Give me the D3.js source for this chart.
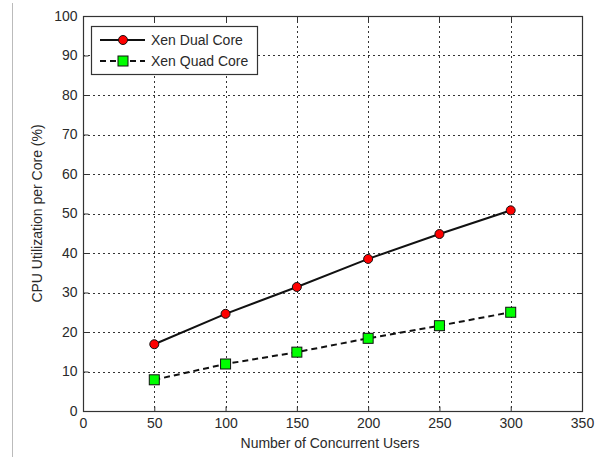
<!DOCTYPE html>
<html>
<head>
<meta charset="utf-8">
<script src="https://cdn.jsdelivr.net/npm/d3@7"></script>
<style>
  body { margin: 0; background: #fff; }
  svg { display: block; font-family: "Liberation Sans", Arial, sans-serif; }
</style>
</head>
<body>
<svg id="chart" width="601" height="457"></svg>
<script>
// Concurrent user counts on the x axis
const users = [50, 100, 150, 200, 250, 300];
// CPU utilization per core (%)
const dualCore = [16.9, 24.6, 31.4, 38.5, 44.8, 50.8];
const quadCore = [7.9, 11.9, 14.9, 18.4, 21.6, 25.0];
const xTicks = [0, 50, 100, 150, 200, 250, 300, 350];
const yTicks = [0, 10, 20, 30, 40, 50, 60, 70, 80, 90, 100];
const seriesNames = ["Xen Dual Core", "Xen Quad Core"];

const svg = d3.select("#chart");
const plotLeft = 83, plotRight = 582, plotTop = 16, plotBottom = 411;
const fontSize = 14;
const textColor = "#2a2a2a";

const x = d3.scaleLinear().domain([0, 350]).range([plotLeft, plotRight]);
const y = d3.scaleLinear().domain([0, 100]).range([plotBottom, plotTop]);

// thin grey frame line at the left edge
svg.append("line").attr("x1", 12.5).attr("x2", 12.5).attr("y1", 3).attr("y2", 457)
  .attr("stroke", "#bbb").attr("stroke-width", 1);

// dotted grid
const grid = svg.append("g").attr("stroke", "#333").attr("stroke-width", 1)
  .attr("stroke-dasharray", "2,3");
grid.selectAll("line.v").data(xTicks.slice(1, -1)).join("line")
  .attr("class", "v")
  .attr("x1", d => Math.round(x(d)) + 0.5).attr("x2", d => Math.round(x(d)) + 0.5)
  .attr("y1", plotTop).attr("y2", plotBottom);
grid.selectAll("line.h").data(yTicks.slice(1, -1)).join("line")
  .attr("class", "h")
  .attr("y1", d => Math.round(y(d)) + 0.5).attr("y2", d => Math.round(y(d)) + 0.5)
  .attr("x1", plotLeft).attr("x2", plotRight);

// axes with inward ticks
const xAxis = d3.axisBottom(x).tickValues(xTicks).tickSize(-5).tickPadding(7).tickFormat(d3.format("d"));
const yAxis = d3.axisLeft(y).tickValues(yTicks).tickSize(-5).tickPadding(6).tickFormat(d3.format("d"));
const gx = svg.append("g").attr("transform", `translate(0,${plotBottom + 0.5})`).call(xAxis);
const gy = svg.append("g").attr("transform", `translate(${plotLeft + 0.5},0)`).call(yAxis);
[gx, gy].forEach(g => {
  g.select(".domain").remove();
  g.selectAll(".tick line").attr("stroke", "#333");
  g.selectAll(".tick text").attr("fill", textColor).attr("font-size", fontSize)
    .attr("font-family", "Liberation Sans, Arial, sans-serif");
});
// top and right ticks
svg.append("g").selectAll("line").data(xTicks).join("line")
  .attr("x1", d => Math.round(x(d)) + 0.5).attr("x2", d => Math.round(x(d)) + 0.5)
  .attr("y1", plotTop).attr("y2", plotTop + 5).attr("stroke", "#333");
svg.append("g").selectAll("line").data(yTicks).join("line")
  .attr("y1", d => Math.round(y(d)) + 0.5).attr("y2", d => Math.round(y(d)) + 0.5)
  .attr("x1", plotRight - 5).attr("x2", plotRight).attr("stroke", "#333");

// axes box
svg.append("rect").attr("x", plotLeft + 0.5).attr("y", plotTop + 0.5)
  .attr("width", plotRight - plotLeft).attr("height", plotBottom - plotTop)
  .attr("fill", "none").attr("stroke", "#333").attr("stroke-width", 1.2);

// axis titles
svg.append("text").attr("x", 330).attr("y", 448)
  .attr("text-anchor", "middle").attr("font-size", fontSize).attr("fill", textColor)
  .text("Number of Concurrent Users");
svg.append("text").attr("transform", `translate(42,${(plotTop + plotBottom) / 2}) rotate(-90)`)
  .attr("text-anchor", "middle").attr("font-size", fontSize).attr("fill", textColor)
  .text("CPU Utilization per Core (%)");

// series
const line = d3.line().x((d, i) => x(users[i])).y(d => y(d));
svg.append("path").datum(dualCore).attr("d", line)
  .attr("fill", "none").attr("stroke", "#111").attr("stroke-width", 2);
svg.append("path").datum(quadCore).attr("d", line)
  .attr("fill", "none").attr("stroke", "#111").attr("stroke-width", 2)
  .attr("stroke-dasharray", "6,4");

svg.append("g").selectAll("circle").data(dualCore).join("circle")
  .attr("cx", (d, i) => x(users[i])).attr("cy", d => y(d)).attr("r", 4.5)
  .attr("fill", "#f00").attr("stroke", "#111").attr("stroke-width", 1);
svg.append("g").selectAll("rect").data(quadCore).join("rect")
  .attr("x", (d, i) => x(users[i]) - 5).attr("y", d => y(d) - 5)
  .attr("width", 10).attr("height", 10)
  .attr("fill", "#0f0").attr("stroke", "#111").attr("stroke-width", 1);

// legend
const lg = svg.append("g");
lg.append("rect").attr("x", 91.5).attr("y", 26.5).attr("width", 166).attr("height", 48)
  .attr("fill", "#fff").attr("stroke", "#333").attr("stroke-width", 1.2);
const rows = [40, 61];
lg.append("line").attr("x1", 100).attr("x2", 145).attr("y1", rows[0]).attr("y2", rows[0])
  .attr("stroke", "#111").attr("stroke-width", 2);
lg.append("circle").attr("cx", 123).attr("cy", rows[0]).attr("r", 4.5)
  .attr("fill", "#f00").attr("stroke", "#111");
lg.append("line").attr("x1", 100).attr("x2", 145).attr("y1", rows[1]).attr("y2", rows[1])
  .attr("stroke", "#111").attr("stroke-width", 2).attr("stroke-dasharray", "6,4");
lg.append("rect").attr("x", 118).attr("y", rows[1] - 5).attr("width", 10).attr("height", 10)
  .attr("fill", "#0f0").attr("stroke", "#111");
lg.selectAll("text").data(seriesNames).join("text")
  .attr("x", 151).attr("y", (d, i) => rows[i] + 5)
  .attr("font-size", fontSize).attr("fill", textColor).text(d => d);
</script>
</body>
</html>
